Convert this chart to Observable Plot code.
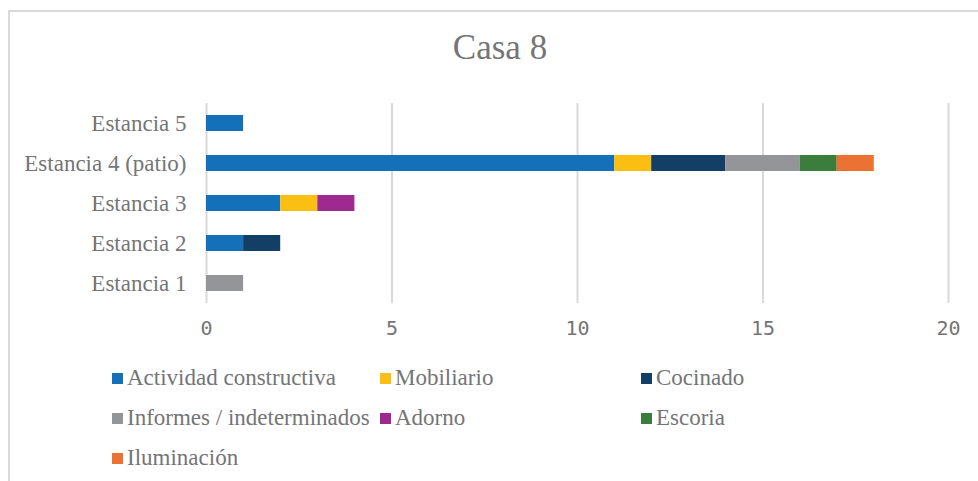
<!DOCTYPE html>
<html>
<head>
<meta charset="utf-8">
<script src="https://cdn.jsdelivr.net/npm/d3@7"></script>
<script src="https://cdn.jsdelivr.net/npm/@observablehq/plot@0.6"></script>
<style>
  html, body { margin: 0; padding: 0; background: #fff; }
  #wrap { position: relative; width: 978px; height: 481px; overflow: hidden; background: #fff; }
  #frame { position: absolute; left: 8px; top: 10px; width: 990px; height: 500px;
           border-left: 2px solid #d9d9d9; border-top: 2px solid #d9d9d9; box-sizing: border-box; }
  #title { position: absolute; left: 0; width: 1000px; top: 28px; text-align: center;
           font-family: "Liberation Serif", "Times New Roman", "DejaVu Serif", serif; font-size: 35px; color: #757575; }
  #plot { position: absolute; left: 0; top: 0; }
  .leg { position: absolute; font-family: "Liberation Serif", "Times New Roman", "DejaVu Serif", serif; font-size: 23px; color: #757575;
         white-space: nowrap; line-height: 24px; }
  .sw { position: absolute; width: 11px; height: 11px; }
</style>
</head>
<body>
<div id="wrap">
  <div id="frame"></div>
  <div id="title">Casa 8</div>
  <div id="plot"></div>
  <div id="legend"></div>
</div>
<script>
const rooms = ["Estancia 1", "Estancia 2", "Estancia 3", "Estancia 4 (patio)", "Estancia 5"];
const categories = ["Actividad constructiva", "Mobiliario", "Cocinado", "Informes / indeterminados", "Adorno", "Escoria", "Iluminación"];
const colors = ["#1470b9", "#fbbf13", "#133e66", "#949598", "#9e2a8f", "#3a7d3c", "#ec7233"];
// values per category, aligned with rooms
const actividad   = [0, 1, 2, 11, 1];
const mobiliario  = [0, 0, 1, 1, 0];
const cocinado    = [0, 1, 0, 2, 0];
const informes    = [1, 0, 0, 2, 0];
const adorno      = [0, 0, 1, 0, 0];
const escoria     = [0, 0, 0, 1, 0];
const iluminacion = [0, 0, 0, 1, 0];
const xTicks = [0, 5, 10, 15, 20];

const series = [actividad, mobiliario, cocinado, informes, adorno, escoria, iluminacion];
const table = [];
categories.forEach((c, i) => {
  rooms.forEach((r, j) => {
    if (series[i][j] > 0) table.push({room: r, cat: c, value: series[i][j]});
  });
});

const serif = "'Liberation Serif', 'Times New Roman', 'DejaVu Serif', serif";
const chart = Plot.plot({
  width: 978,
  height: 350,
  marginLeft: 206,
  marginRight: 30,
  marginTop: 103,
  marginBottom: 47,
  style: {background: "transparent", overflow: "visible"},
  x: {domain: [0, 20], ticks: xTicks, grid: false, label: null},
  y: {domain: rooms.slice().reverse(), paddingInner: 0.6, paddingOuter: 0.3, label: null},
  color: {domain: categories, range: colors},
  marks: [
    Plot.ruleX(xTicks, {stroke: "#d9d9d9", strokeWidth: 2, strokeOpacity: 1}),
    Plot.barX(table, Plot.stackX({y: "room", x: "value", fill: "cat", order: null})),
    Plot.axisX({ticks: xTicks, tickSize: 0, tickPadding: 17, fontSize: 20, fontFamily: "DejaVu Sans Mono",
                fill: "#757575", label: null, tickFormat: d => String(d)}),
    Plot.axisY({tickSize: 0, tickPadding: 20, fontSize: 23, fontFamily: serif,
                fill: "#757575", label: null})
  ]
});
document.getElementById("plot").appendChild(chart);

// legend
const legPos = [[112, 378], [380, 378], [641, 378], [112, 418], [380, 418], [641, 418], [112, 458]];
const legend = document.getElementById("legend");
categories.forEach((c, i) => {
  const [x, y] = legPos[i];
  const sw = document.createElement("div");
  sw.className = "sw";
  sw.style.left = x + "px";
  sw.style.top = (y - 5) + "px";
  sw.style.background = colors[i];
  legend.appendChild(sw);
  const t = document.createElement("div");
  t.className = "leg";
  t.style.left = (x + 15) + "px";
  t.style.top = (y - 12) + "px";
  t.textContent = c;
  legend.appendChild(t);
});
</script>
</body>
</html>
